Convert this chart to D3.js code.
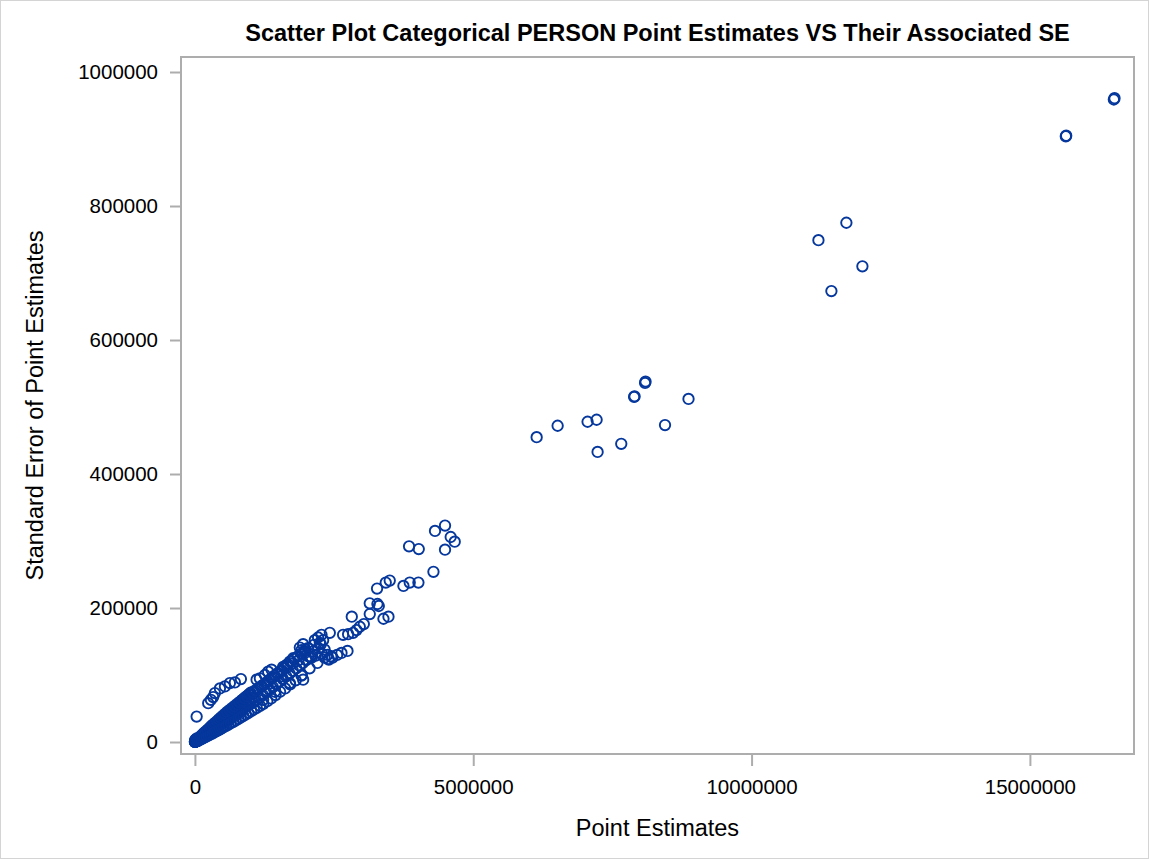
<!DOCTYPE html>
<meta charset="utf-8">
<style>
body { margin: 0; background: #fff; }
svg { display: block; font-family: "Liberation Sans", Arial, sans-serif; }
.frame { fill: none; stroke: #adadad; stroke-width: 2; }
.axis path { display: none; }
.axis line { stroke: #adadad; stroke-width: 2; }
.axis text { font-size: 20.5px; fill: #000; }
.title { font-size: 23.5px; font-weight: bold; }
.label { font-size: 23.5px; }
.dot { fill: none; stroke: #05379c; stroke-width: 1.9; }
</style>
<svg width="1149" height="859"></svg>
<script src="https://cdn.jsdelivr.net/npm/d3@7"></script>
<script>

// values in thousands: [point estimate, standard error]
var pointsLarge = [
  [16520, 961], [16508, 959], [15652, 905], [15645, 904],
  [11703, 775], [11201, 749], [11991, 710], [11434, 673]
];

var pointsMid = [
  [8087, 536], [8095, 538], [7898, 516], [7890, 515], [8867, 512],
  [8445, 473], [7659, 445], [6139, 455], [6516, 472], [7054, 478],
  [7216, 481], [7234, 433]
];

var pointsUpper = [
  [4493, 323], [4313, 315], [4595, 306], [4667, 299], [4493, 287],
  [3847, 292], [4021, 288], [4285, 254], [3500, 241], [3428, 238],
  [3272, 229], [3746, 233], [3859, 238], [4015, 238], [3141, 207],
  [3279, 206], [3303, 203], [3141, 191], [3387, 184], [3477, 187],
  [2818, 187], [3034, 176], [2962, 172], [2903, 167], [2841, 163],
  [2752, 161], [2662, 160], [2423, 163], [2274, 160], [2213, 156],
  [2154, 152], [2303, 152], [2244, 148], [2741, 136], [2633, 133],
  [2554, 130], [2472, 126], [2405, 123], [1944, 146], [1885, 141],
  [1915, 137], [1975, 133], [2034, 128], [2095, 126], [1765, 125],
  [1705, 120], [1646, 115], [1585, 112], [1377, 108], [1316, 105],
  [1257, 100], [1167, 95], [1108, 93], [1915, 99], [1944, 93],
  [1556, 98], [1705, 88], [826, 94], [718, 89], [628, 88],
  [539, 83], [449, 80], [359, 73], [328, 67], [287, 63],
  [239, 58], [31, 38], [1226, 63], [1436, 75]
];

var pointsCluster = [
  [0.5, 0.1], [1, 0.3], [2, 0.2], [3, 0.5], [4, 0.4], [6, 0.6], [8, 0.5],
  [10, 0.9], [12, 0.7], [15, 1.2], [18, 1.0], [20, 1.5], [25, 1.4], [28, 2.0],
  [32, 2.1], [36, 2.6], [40, 2.4], [45, 3.1], [50, 3.0], [55, 3.6], [60, 3.5],
  [65, 4.3], [70, 4.1], [75, 5.0], [80, 4.6], [85, 5.6], [90, 5.2], [95, 6.3],
  [100, 5.9], [105, 7.2], [110, 6.5], [120, 7.8], [125, 6.8], [135, 9.0],
  [140, 8.0], [150, 10.2], [155, 8.6], [165, 11.5], [170, 9.6], [180, 12.3],
  [190, 10.6], [195, 13.8], [205, 11.4], [215, 14.6], [225, 12.6], [230, 16.5],
  [240, 13.2], [250, 17.4], [260, 14.5], [270, 19.0], [280, 15.6], [285, 20.5],
  [295, 16.4], [300, 21.8], [310, 17.5], [320, 23.0], [330, 18.4], [340, 24.5],
  [350, 19.7], [355, 26.2], [365, 20.5], [375, 27.0], [385, 21.6], [390, 28.8],
  [400, 22.5], [410, 29.5], [420, 23.8], [430, 31.0], [440, 24.8], [450, 32.5],
  [460, 26.0], [470, 34.0], [480, 27.2], [490, 35.5], [500, 28.4], [510, 37.0],
  [520, 29.6], [535, 39.0], [550, 31.2], [560, 41.0], [575, 32.8], [590, 43.0],
  [600, 34.0], [615, 45.0], [630, 36.0], [645, 47.5], [660, 37.5], [670, 49.0],
  [690, 39.5], [700, 51.0], [715, 41.0], [730, 53.5], [745, 42.5], [760, 55.5],
  [775, 44.5], [790, 58.0], [805, 46.0], [820, 60.0], [835, 48.0], [850, 62.5],
  [865, 50.0], [880, 64.5], [895, 51.5], [910, 67.0], [925, 53.5], [940, 69.0],
  [955, 55.0], [970, 71.0], [985, 57.0], [1000, 73.5],
  [60, 3.9], [120, 7.9], [180, 11.7], [240, 15.6], [300, 19.5], [360, 23.4],
  [420, 27.3], [480, 31.2], [540, 35.1], [600, 39.0], [660, 42.9], [720, 46.8],
  [780, 50.7], [840, 54.6], [900, 58.5], [960, 62.4], [1020, 66.3],
  [1040, 58.5], [1070, 75.0], [1100, 62.0], [1130, 79.0], [1160, 66.0],
  [1190, 82.0], [1220, 70.0], [1250, 86.0], [1280, 74.0], [1310, 90.0],
  [1340, 78.0], [1370, 95.0], [1400, 82.0], [1430, 99.0], [1460, 86.0],
  [1490, 103.0], [1520, 90.0], [1550, 107.0], [1580, 94.0], [1610, 111.0],
  [1640, 98.0], [1670, 116.0], [1700, 102.0], [1730, 120.0], [1760, 106.0],
  [1790, 124.0], [1820, 110.0], [1850, 128.0], [1880, 114.0], [1910, 132.0],
  [1940, 118.0], [1970, 136.0], [2000, 122.0], [2030, 140.0], [2070, 127.0],
  [2120, 135.0], [2170, 129.0], [2220, 140.0], [2280, 132.0], [2330, 126.0],
  [2380, 130.0]
];

// scattered points round the edges of the dense band
var pointsClusterEdge = [
  [5, 2.5], [10, 3.5], [15, 2.0], [20, 2.0], [25, 4.0], [30, 0.9], [35, 5.5],
  [40, 1.5], [45, 4.0], [55, 1.8], [70, 6.2], [85, 3.0], [100, 8.5], [115, 4.2],
  [130, 10.8], [145, 5.6], [160, 13.2], [175, 6.8], [190, 15.5], [210, 8.3],
  [225, 18.0], [245, 9.8], [260, 20.8], [275, 11.2], [290, 23.5], [310, 12.6],
  [325, 26.0], [345, 14.2], [360, 28.5], [380, 15.8], [395, 31.0], [415, 17.4],
  [430, 33.8], [450, 19.0], [465, 36.5], [485, 20.6], [500, 39.0], [520, 22.4],
  [540, 42.0], [560, 24.0], [580, 45.0], [600, 26.0], [620, 47.5], [645, 28.0],
  [665, 50.5], [690, 30.0], [710, 53.5], [735, 32.2], [755, 56.5], [780, 34.5],
  [800, 59.5], [825, 36.8], [845, 62.5], [870, 39.0], [890, 65.5], [915, 41.2],
  [940, 68.0], [960, 43.5], [985, 71.5], [1010, 46.0], [1035, 74.5], [1060, 48.5],
  [1085, 77.0], [1110, 51.0], [1140, 80.5], [1170, 54.0], [1200, 84.0], [1230, 57.0],
  [1265, 88.0], [1300, 61.0], [1335, 92.0], [1370, 65.0], [1410, 96.5], [1450, 70.0],
  [1490, 101.0], [1530, 75.0], [1570, 106.0], [1620, 80.0], [1660, 112.0], [1710, 86.0],
  [1760, 117.0], [1810, 92.0], [1860, 122.0], [1920, 100.0], [1990, 138.0], [2060, 110.0],
  [2140, 145.0], [2200, 118.0], [2260, 146.0], [2330, 138.0], [2400, 124.0], [2450, 128.0]
];

var xTicks = [0, 5000, 10000, 15000];
var yTicks = [0, 200, 400, 600, 800, 1000];

var svg = d3.select("svg"),
    width = +svg.attr("width"),
    height = +svg.attr("height");

var plot = { left: 181, right: 1134, top: 57, bottom: 754 };

var x = d3.scaleLinear()
    .domain([-250, 16870])
    .range([plot.left, plot.right]);

var y = d3.scaleLinear()
    .domain([-17.9, 1022.4])
    .range([plot.bottom, plot.top]);

var fmt = function(d) { return d3.format("d")(d * 1000); };

// light outer border
svg.append("rect")
    .attr("x", 0.5).attr("y", 0.5)
    .attr("width", width - 1).attr("height", height - 1)
    .attr("fill", "none")
    .attr("stroke", "#d4d4d4");

svg.append("g")
    .attr("class", "axis")
    .attr("transform", "translate(0," + (plot.bottom + 1) + ")")
    .call(d3.axisBottom(x).tickValues(xTicks).tickFormat(fmt).tickSize(11).tickPadding(13));

svg.append("g")
    .attr("class", "axis")
    .attr("transform", "translate(" + plot.left + ",0)")
    .call(d3.axisLeft(y).tickValues(yTicks).tickFormat(fmt).tickSize(11).tickPadding(12))
  .selectAll("text")
    .attr("dy", "0.34em");

svg.append("rect")
    .attr("class", "frame")
    .attr("x", plot.left).attr("y", plot.top)
    .attr("width", plot.right - plot.left)
    .attr("height", plot.bottom - plot.top);

var all = pointsCluster.concat(pointsClusterEdge, pointsUpper, pointsMid, pointsLarge);

svg.append("g")
  .selectAll("circle")
    .data(all)
  .enter().append("circle")
    .attr("class", "dot")
    .attr("cx", function(d) { return x(d[0]); })
    .attr("cy", function(d) { return y(d[1]); })
    .attr("r", 5.2);

svg.append("text")
    .attr("class", "title")
    .attr("x", (plot.left + plot.right) / 2)
    .attr("y", 41)
    .attr("text-anchor", "middle")
    .text("Scatter Plot Categorical PERSON Point Estimates VS Their Associated SE");

svg.append("text")
    .attr("class", "label")
    .attr("x", (plot.left + plot.right) / 2)
    .attr("y", 836)
    .attr("text-anchor", "middle")
    .text("Point Estimates");

svg.append("text")
    .attr("class", "label")
    .attr("transform", "translate(43," + ((plot.top + plot.bottom) / 2) + ") rotate(-90)")
    .attr("text-anchor", "middle")
    .text("Standard Error of Point Estimates");

</script>
